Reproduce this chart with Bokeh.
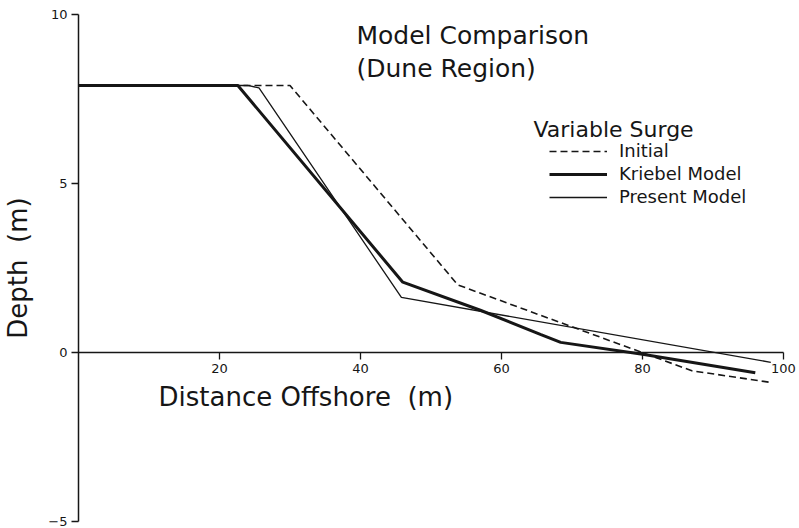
from bokeh.plotting import figure
from bokeh.models import LinearAxis, FixedTicker, Range1d, Label, Legend, LegendItem
from bokeh.embed import file_html
from bokeh.resources import INLINE

# ---- data ----
initial_x = [0, 30.0, 53.8, 87.0, 98.0]
initial_y = [7.9, 7.9, 2.0, -0.54, -0.88]

kriebel_x = [0, 22.6, 46.0, 57.0, 65.6, 68.4, 80.0, 96.0]
kriebel_y = [7.9, 7.9, 2.08, 1.25, 0.53, 0.30, -0.05, -0.60]

present_x = [0, 24.0, 25.6, 45.8, 98.2]
present_y = [7.9, 7.9, 7.83, 1.63, -0.29]

x_ticks = [20, 40, 60, 80, 100]
y_ticks = [-5, 0, 5, 10]

series_labels = ["Initial", "Kriebel Model", "Present Model"]

FONT = "DejaVu Sans"
INK = "#161616"
NB = "\u00a0"

p = figure(width=799, height=528, output_backend="svg", toolbar_location=None,
           x_range=Range1d(0, 102.27), y_range=Range1d(-5, 10),
           x_axis_location=None, y_axis_location=None,
           min_border_left=78, min_border_right=0, min_border_top=14, min_border_bottom=7)
p.outline_line_color = None
for g in p.grid:
    g.visible = False

yaxis = LinearAxis(ticker=FixedTicker(ticks=y_ticks), axis_label="Depth " + NB + "(m)")
xaxis = LinearAxis(ticker=FixedTicker(ticks=x_ticks), fixed_location=0, bounds=(0, 100))
for ax in (xaxis, yaxis):
    ax.axis_line_color = INK
    ax.axis_line_width = 1.5
    ax.major_tick_line_color = INK
    ax.major_tick_line_width = 1.3
    ax.major_tick_in = 0
    ax.major_tick_out = 7
    ax.minor_tick_line_color = None
    ax.major_label_text_font = FONT
    ax.major_label_text_font_size = "13px"
    ax.major_label_text_color = INK
    ax.major_label_standoff = 4
yaxis.axis_label_text_font = FONT
yaxis.axis_label_text_font_size = "26px"
yaxis.axis_label_text_font_style = "normal"
yaxis.axis_label_text_color = INK
yaxis.axis_label_standoff = 12
p.add_layout(yaxis, "left")
p.add_layout(xaxis, "below")

r_init = p.line(initial_x, initial_y, line_dash="7 4", line_width=1.6, line_color=INK)
r_krie = p.line(kriebel_x, kriebel_y, line_width=3, line_color=INK)
r_pres = p.line(present_x, present_y, line_width=1.3, line_color=INK)

legend = Legend(items=[LegendItem(label=series_labels[0], renderers=[r_init]),
                       LegendItem(label=series_labels[1], renderers=[r_krie]),
                       LegendItem(label=series_labels[2], renderers=[r_pres])],
                location=(471, 314), padding=0, margin=0, border_line_color=None,
                background_fill_alpha=0, glyph_width=58, glyph_height=20,
                label_height=20, label_standoff=12, spacing=2,
                label_text_font=FONT, label_text_font_size="18px", label_text_color=INK)
p.add_layout(legend)

def lbl(x, y, text, size):
    p.add_layout(Label(x=x, y=y, text=text, text_font=FONT, text_font_size=size,
                       text_color=INK, text_align="left", text_baseline="alphabetic"))

lbl(39.43, 9.38, "Model Comparison", "25px")
lbl(39.43, 8.40, "(Dune Region)", "25px")
lbl(64.54, 6.61, "Variable Surge", "22px")
lbl(11.35, -1.32, "Distance Offshore " + NB + "(m)", "26px")

open("out.html", "w").write(file_html(p, INLINE))
